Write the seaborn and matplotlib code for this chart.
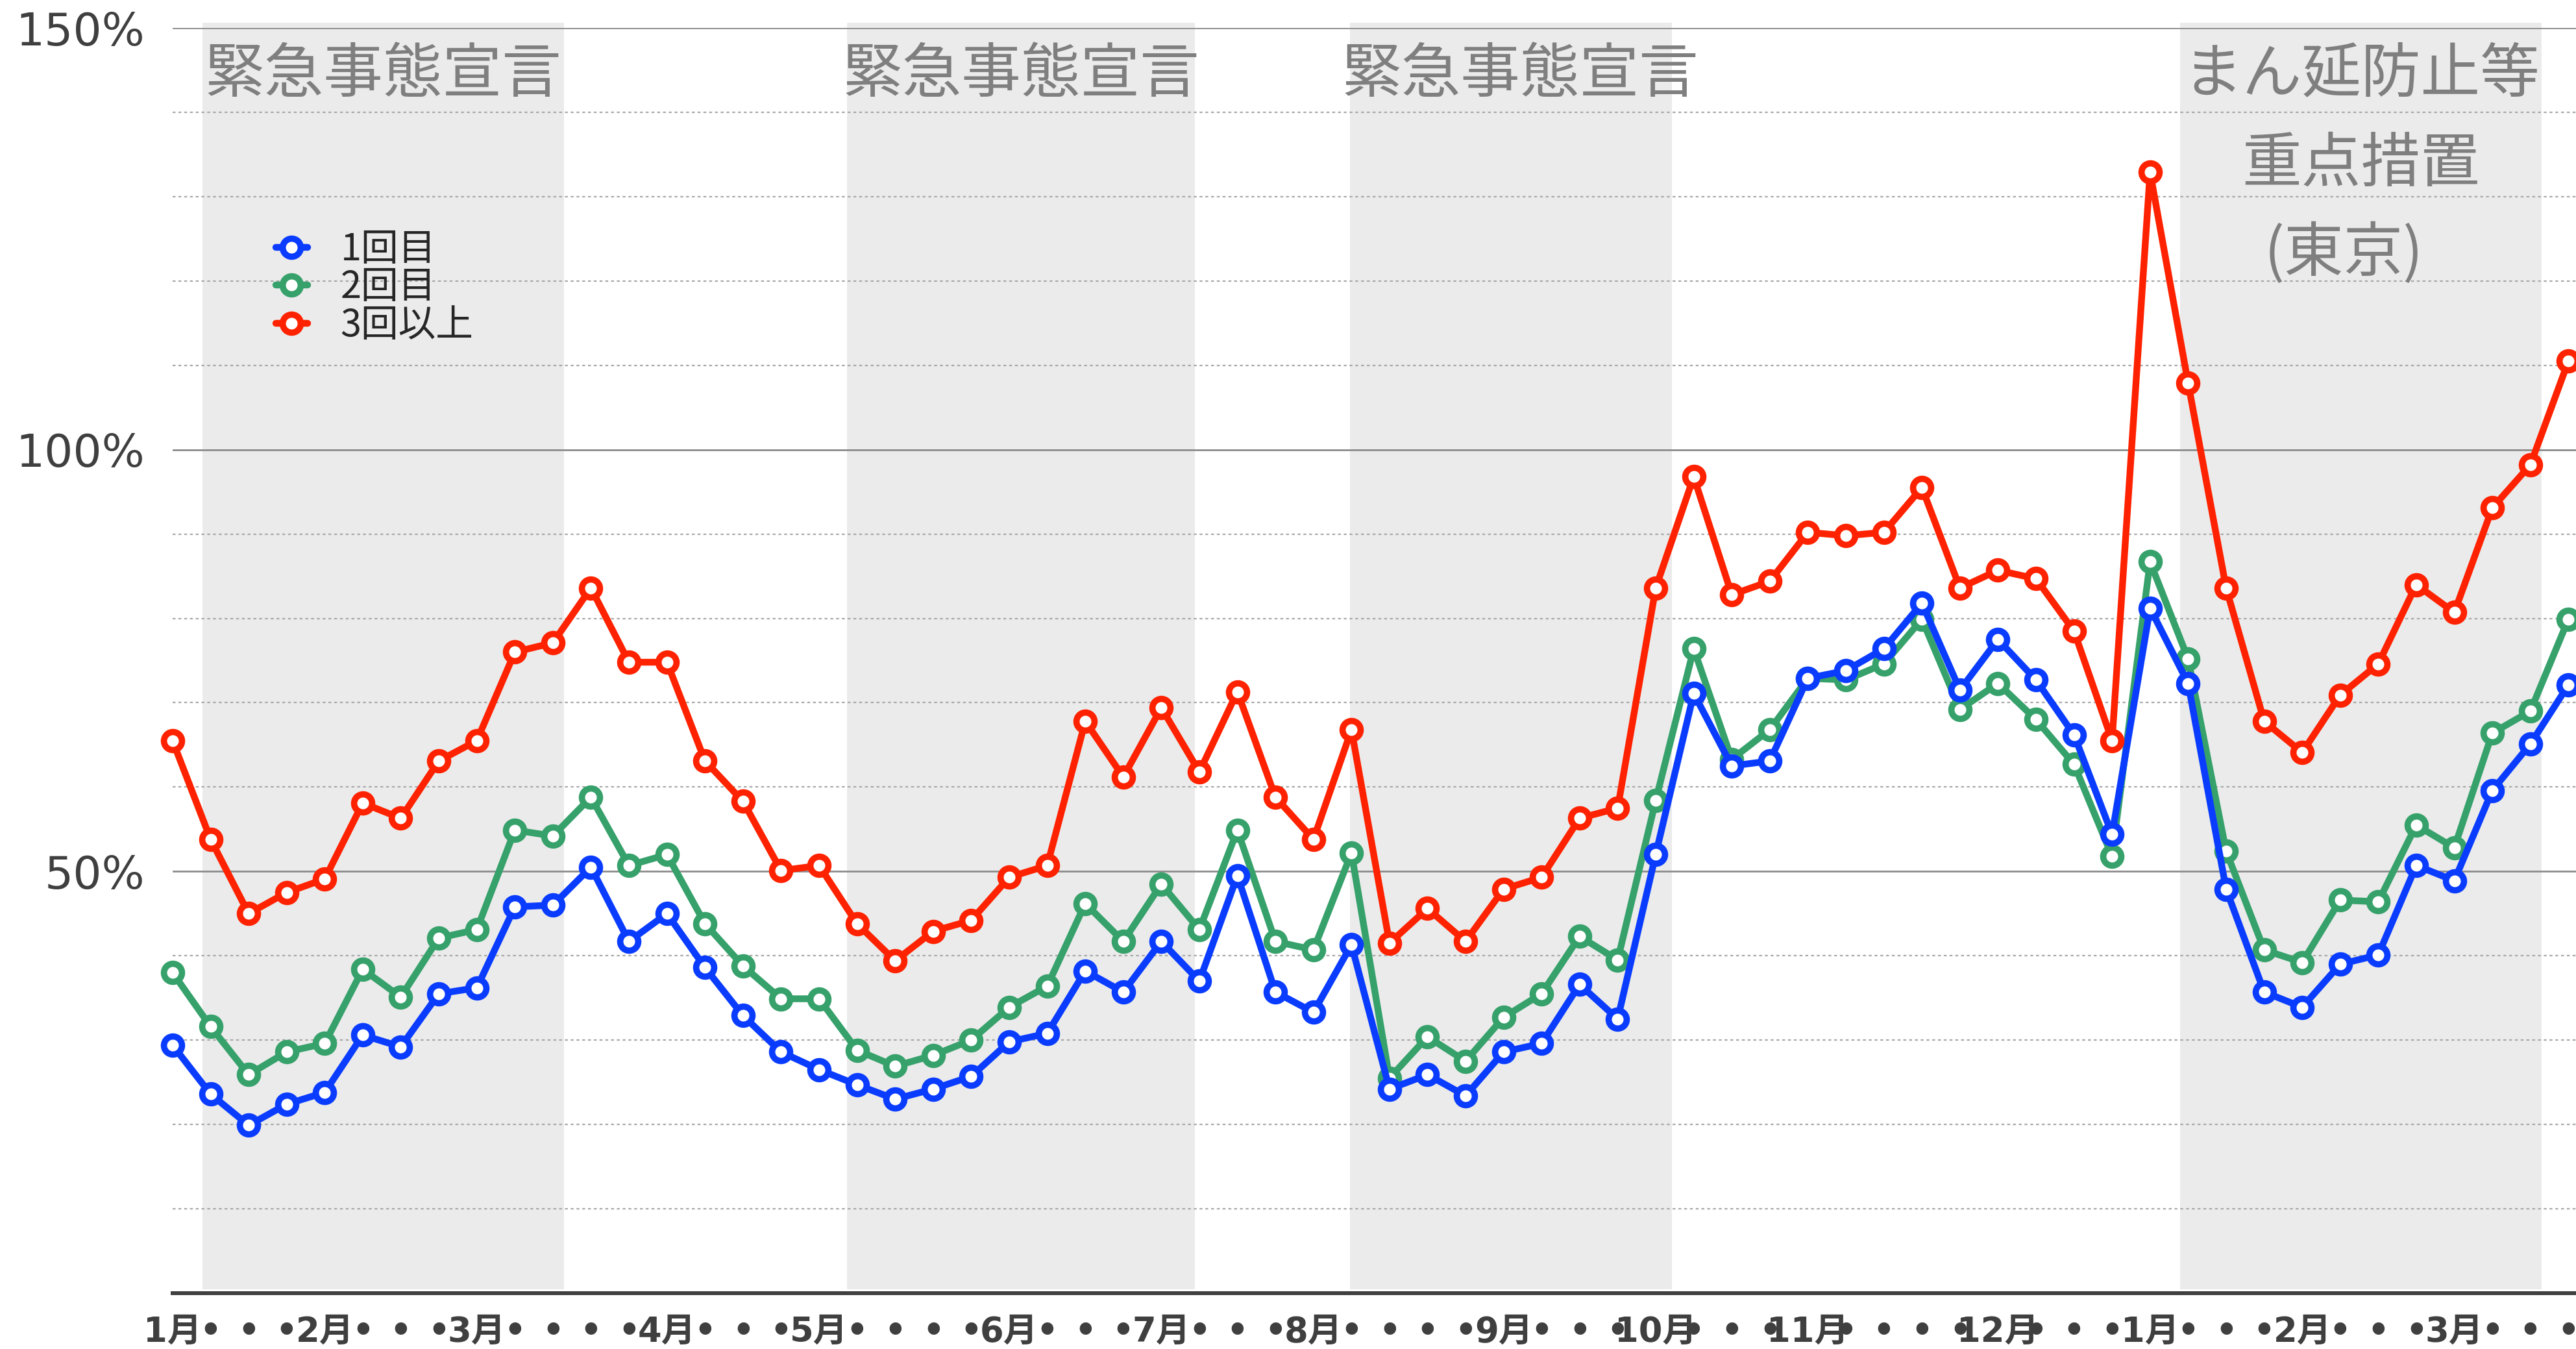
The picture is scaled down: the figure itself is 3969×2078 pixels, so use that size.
import numpy as np
import pandas as pd
import matplotlib
matplotlib.use('Agg')
import matplotlib.pyplot as plt
import seaborn as sns
from matplotlib.ticker import MultipleLocator

# weekly tick labels (one per data point)
week_labels = ['1月', '•', '•', '•', '2月', '•', '•', '•', '3月', '•', '•', '•', '•',
               '4月', '•', '•', '•', '5月', '•', '•', '•', '•', '6月', '•', '•', '•',
               '7月', '•', '•', '•', '8月', '•', '•', '•', '•', '9月', '•', '•', '•',
               '10月', '•', '•', '•', '11月', '•', '•', '•', '•', '12月', '•', '•', '•',
               '1月', '•', '•', '•', '2月', '•', '•', '•', '3月', '•', '•', '•']

dose1 = [29.4, 23.6, 19.9, 22.4, 23.8, 30.6, 29.2, 35.5, 36.2, 45.8, 46.0, 50.5, 41.7,
         45.0, 38.6, 32.9, 28.6, 26.5, 24.7, 23.0, 24.2, 25.7, 29.8, 30.8, 38.2, 35.7,
         41.7, 37.0, 49.5, 35.7, 33.3, 41.3, 24.2, 25.9, 23.4, 28.6, 29.6, 36.6, 32.5,
         52.0, 71.1, 62.5, 63.1, 72.9, 73.8, 76.4, 81.8, 71.5, 77.5, 72.7, 66.2, 54.4,
         81.2, 72.3, 47.9, 35.7, 33.9, 39.0, 40.1, 50.7, 48.9, 59.6, 65.1, 72.1]
dose2 = [38.0, 31.6, 25.9, 28.6, 29.6, 38.4, 35.1, 42.1, 43.1, 54.9, 54.2, 58.8, 50.7,
         52.0, 43.8, 38.8, 34.9, 34.9, 28.8, 26.9, 28.2, 30.0, 33.9, 36.4, 46.2, 41.7,
         48.5, 43.1, 54.9, 41.7, 40.7, 52.2, 25.5, 30.4, 27.5, 32.7, 35.5, 42.3, 39.5,
         58.4, 76.4, 63.3, 66.8, 72.9, 72.7, 74.6, 79.9, 69.2, 72.3, 68.0, 62.7, 51.8,
         86.7, 75.2, 52.4, 40.7, 39.2, 46.6, 46.4, 55.5, 52.8, 66.4, 69.0, 79.9]
dose3 = [65.5, 53.8, 45.0, 47.5, 49.1, 58.1, 56.3, 63.1, 65.5, 76.0, 77.1, 83.6, 74.8,
         74.8, 63.1, 58.3, 50.1, 50.7, 43.8, 39.4, 42.9, 44.2, 49.3, 50.7, 67.8, 61.2,
         69.4, 61.8, 71.3, 58.8, 53.8, 66.8, 41.5, 45.6, 41.7, 47.9, 49.3, 56.3, 57.5,
         83.6, 96.8, 82.8, 84.4, 90.2, 89.8, 90.2, 95.5, 83.6, 85.7, 84.7, 78.5, 65.5,
         132.9, 107.9, 83.6, 67.8, 64.1, 70.9, 74.6, 84.0, 80.7, 93.1, 98.2, 110.5]

series_names = ['1回目', '2回目', '3回以上']
series_colors = ['#0a3cff', '#36a16a', '#ff2200']

# restriction periods (in week index units) and their captions
periods = [(0.78, 10.29), (17.73, 26.89), (30.96, 39.43), (52.79, 62.30)]
period_texts = [['緊急事態宣言'], ['緊急事態宣言'], ['緊急事態宣言'],
                ['まん延防止等', '重点措置', '(東京)']]

df = pd.DataFrame({'week': np.arange(len(week_labels)),
                   '1回目': dose1, '2回目': dose2, '3回以上': dose3})

sns.set_style('white')
plt.rcParams['font.family'] = ['Noto Sans CJK JP', 'DejaVu Sans']

fig = plt.figure(figsize=(39.69, 20.78), dpi=100)
ax = fig.add_axes([0.067, 0.0414, 0.933, 0.9379])

for start, end in periods:
    ax.axvspan(start, end, ymin=0.003, ymax=1.004, color='#ebebeb', zorder=0, lw=0, clip_on=False)

for k, (texts, (start, end)) in enumerate(zip(period_texts, periods)):
    xc = (start + end) / 2 + (0.25 if k == 2 else 0)
    for i, t in enumerate(texts):
        dx = -0.45 if t.startswith('(') else 0
        ax.text(xc + dx, 144.4 - i * 10.6, t, ha='center', va='center',
                fontsize=66, color='#7f7f7f', zorder=2)

zorders = [4, 3, 5]
for name, color, z in zip(series_names, series_colors, zorders):
    sns.lineplot(data=df, x='week', y=name, ax=ax, color=color, lw=7.5,
                 marker='o', ms=20, mfc='white', mec=color, mew=7,
                 label=name, zorder=z, clip_on=False)

ax.set_xlim(0, 63.2)
ax.set_ylim(0, 150)
ax.set_yticks([50, 100, 150])
ax.set_yticklabels(['50%', '100%', '150%'], fontsize=50, color='#3f3f3f',
                   family=['DejaVu Sans'])
ax.yaxis.set_minor_locator(MultipleLocator(10))
ax.set_xticks(df['week'])
ax.set_xticklabels(week_labels, fontsize=38, color='#3f3f3f', fontweight='bold',
                   family=['DejaVu Sans', 'Noto Sans CJK JP'])
ax.tick_params(axis='y', which='both', length=0, pad=31)
ax.tick_params(axis='x', length=0, pad=24)

ax.grid(False)
ax.grid(axis='y', which='major', color='#8c8c8c', lw=2, zorder=1)
ax.grid(axis='y', which='minor', color='#a8a8a8', lw=1.6, ls=(0, (2, 2)), zorder=1)
ax.set_axisbelow(True)

for s in ['top', 'right', 'left']:
    ax.spines[s].set_visible(False)
ax.spines['bottom'].set_color('#404040')
ax.spines['bottom'].set_linewidth(4.3)
ax.set_xlabel('')
ax.set_ylabel('')

ax.legend(loc='upper left', bbox_to_anchor=(0.107, 0.829), bbox_transform=fig.transFigure,
          frameon=False, fontsize=41.5, handlelength=0.85, handletextpad=0.88,
          labelspacing=0.0, borderpad=0, borderaxespad=0)

fig.savefig('out.png', dpi=100)
